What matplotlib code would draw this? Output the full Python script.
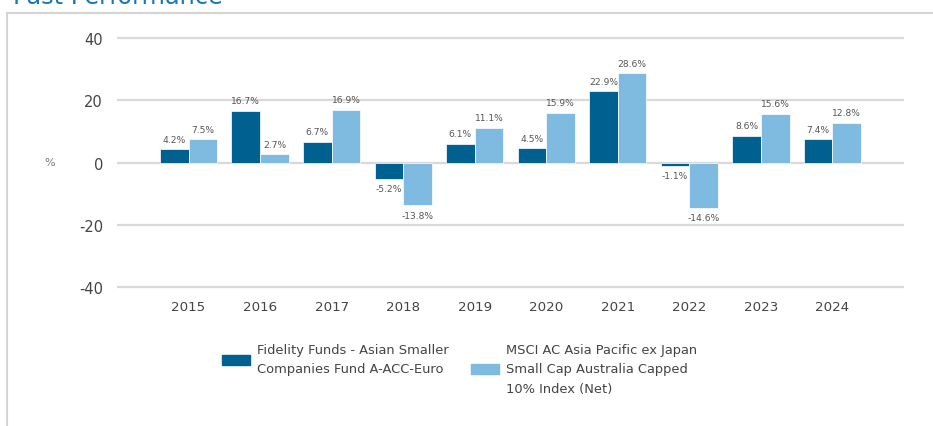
import numpy as np
import matplotlib
matplotlib.use("Agg")
import matplotlib.pyplot as plt
from matplotlib.lines import Line2D

years = ['2015', '2016', '2017', '2018', '2019', '2020', '2021', '2022', '2023', '2024']
fund = [4.2, 16.7, 6.7, -5.2, 6.1, 4.5, 22.9, -1.1, 8.6, 7.4]
bench = [7.5, 2.7, 16.9, -13.8, 11.1, 15.9, 28.6, -14.6, 15.6, 12.8]
fund_name = 'Fidelity Funds - Asian Smaller\nCompanies Fund A-ACC-Euro'
bench_name = 'MSCI AC Asia Pacific ex Japan\nSmall Cap Australia Capped\n10% Index (Net)'

c_fund = '#00608f'
c_bench = '#7fbae0'
grid_c = '#d9d9d9'
text_c = '#444444'
plt.rcParams['axes.unicode_minus'] = False

W, H = 933, 427
fig = plt.figure(figsize=(W / 100, H / 100), dpi=100)

# panel frame and cut-off heading
fig.add_artist(Line2D([7 / W, 7 / W], [0, 1 - 14 / H], color='#d4d4d4', lw=1.5))
fig.add_artist(Line2D([7 / W, 1], [1 - 14 / H, 1 - 14 / H], color='#d4d4d4', lw=1.5))
fig.text(13 / W, 1 - 4 / H, 'Past Performance', color='#1a75bb', fontsize=17.3,
         va='baseline', ha='left')

# 40 -> y 39 px, -40 -> y 288 px; pad the limits so the edge gridlines are not clipped
ppu = (288 - 39) / 80.0
ax = fig.add_axes([117 / W, 1 - (288 + 2 * ppu) / H, (904 - 117) / W, (288 - 39 + 4 * ppu) / H])

x = np.arange(len(years))
w = 0.4
b1 = ax.bar(x - w / 2, fund, w, color=c_fund, edgecolor='white', linewidth=0.5, zorder=3)
b2 = ax.bar(x + w / 2, bench, w, color=c_bench, edgecolor='white', linewidth=0.5, zorder=3)

for bars, vals in ((b1, fund), (b2, bench)):
    for r, v in zip(bars, vals):
        cx = r.get_x() + r.get_width() / 2
        if v >= 0:
            ax.annotate(f'{v:.1f}%', (cx, v), xytext=(0, 4), textcoords='offset points',
                        ha='center', va='bottom', fontsize=6.6, color='#555555')
        else:
            ax.annotate(f'{v:.1f}%', (cx, v), xytext=(0, -4), textcoords='offset points',
                        ha='center', va='top', fontsize=6.6, color='#555555')

ax.set_xlim(-1, 10)
ax.set_ylim(-42, 42)
ax.set_yticks([-40, -20, 0, 20, 40])
ax.set_xticks(x)
ax.set_xticklabels(years)
ax.yaxis.grid(True, color=grid_c, lw=1.6, zorder=0)
ax.set_axisbelow(True)
for s in ax.spines.values():
    s.set_visible(False)
ax.tick_params(length=0, labelsize=10.5, colors=text_c, pad=10)
ax.tick_params(axis='x', labelsize=9.6, pad=5)

fig.text(50 / W, 1 - 163 / H, '%', fontsize=8, color='#777777', ha='center', va='center')

# two separate legends so both text blocks are top-aligned
handles = [plt.Rectangle((0, 0), 1, 1, color=c_fund), plt.Rectangle((0, 0), 1, 1, color=c_bench)]
names = [fund_name, bench_name]
lefts = [222, 471]
for hnd, name, lx in zip(handles, names, lefts):
    leg = fig.legend([hnd], [name], loc='upper left',
                     bbox_to_anchor=(lx / W, 1 - 344 / H), frameon=False,
                     fontsize=9.4, handlelength=2.15, handleheight=0.8, handletextpad=0.55,
                     borderpad=0, borderaxespad=0, labelcolor=text_c)
    for t in leg.get_texts():
        t.set_linespacing(1.65)

fig.savefig('out.png', dpi=100)
